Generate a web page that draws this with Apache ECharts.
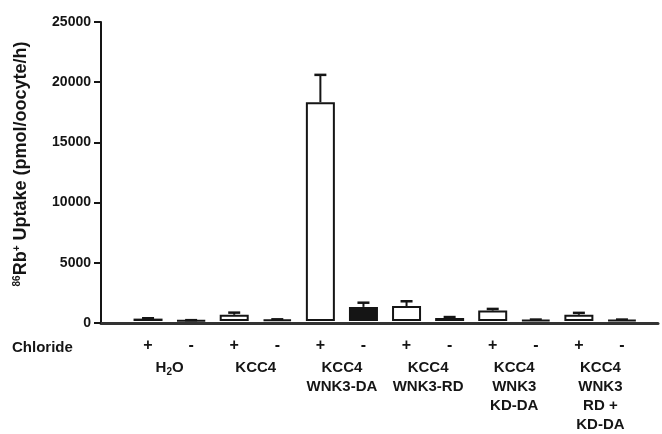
<!DOCTYPE html>
<html>
<head>
<meta charset="utf-8">
<script src="https://cdn.jsdelivr.net/npm/echarts@6/dist/echarts.min.js"></script>
<style>html,body{margin:0;padding:0;background:#fff;}#c{width:662px;height:434px;}</style>
</head>
<body>
<div id="c"></div>
<script>
// ---- data ----
const chloride = ['+', '-', '+', '-', '+', '-', '+', '-', '+', '-', '+', '-'];
const groupLabels = ['H{sub|2}O', 'KCC4', 'KCC4\nWNK3-DA', 'KCC4\nWNK3-RD', 'KCC4\nWNK3\nKD-DA', 'KCC4\nWNK3\nRD +\nKD-DA'];
const uptakeMean = [200, 60, 520, 120, 18300, 1180, 1250, 250, 870, 100, 520, 100];
const uptakeErr  = [30, 10, 180, 20, 2280, 350, 400, 80, 140, 20, 160, 20];
const yTicks = [0, 5000, 10000, 15000, 20000, 25000];

// ---- styling ----
const solidBarIndex = 5;
const ink = '#151515';
const font = 'Liberation Sans, Arial, sans-serif';

const chart = echarts.init(document.getElementById('c'), null, {renderer: 'canvas'});
const yMin = yTicks[0], yMax = yTicks[yTicks.length - 1], yStep = yTicks[1] - yTicks[0];

chart.setOption({
  animation: false,
  backgroundColor: '#fff',
  grid: [
    {left: 101, right: 4, top: 22, bottom: 111, containLabel: false},
    {left: 126.5, right: 18.5, top: 22, bottom: 111, containLabel: false}
  ],
  xAxis: [
    {gridIndex: 0, type: 'value', min: 0, max: 1, axisLine: {show: true, onZero: false, lineStyle: {color: '#333', width: 3}},
     axisTick: {show: false}, axisLabel: {show: false}, splitLine: {show: false}},
    {gridIndex: 1, type: 'category', data: chloride, boundaryGap: true,
     axisLine: {show: false}, axisTick: {show: false}, splitLine: {show: false},
     axisLabel: {interval: 0, margin: 17, color: ink, fontFamily: font, fontWeight: 'bold', fontSize: 16, lineHeight: 15}},
    {gridIndex: 1, type: 'category', data: groupLabels, boundaryGap: true, position: 'bottom',
     axisLine: {show: false}, axisTick: {show: false}, splitLine: {show: false},
     axisLabel: {interval: 0, margin: 37, color: ink, fontFamily: font, fontWeight: 'bold', fontSize: 15, lineHeight: 19,
       formatter: v => v,
       rich: {sub: {fontSize: 10, fontFamily: font, fontWeight: 'bold', color: ink, verticalAlign: 'bottom', lineHeight: 19, padding: [6, 0, 0, 0]}}}}
  ],
  yAxis: [
    {gridIndex: 0, type: 'value', min: yMin, max: yMax, interval: yStep,
     axisLine: {show: true, lineStyle: {color: ink, width: 2}},
     axisTick: {show: true, length: 7, lineStyle: {color: ink, width: 2}},
     axisLabel: {margin: 10, color: ink, fontFamily: font, fontWeight: 'bold', fontSize: 14, formatter: v => String(v)},
     splitLine: {show: false}},
    {gridIndex: 1, type: 'value', min: yMin, max: yMax, interval: yStep, show: false, splitLine: {show: false}}
  ],
  series: [
    {type: 'bar', xAxisIndex: 1, yAxisIndex: 1, data: uptakeMean, barWidth: 29,
     itemStyle: {color: p => p.dataIndex === solidBarIndex ? ink : '#fff', borderColor: ink, borderWidth: 2},
     z: 3},
    {type: 'custom', xAxisIndex: 1, yAxisIndex: 1, z: 4,
     data: uptakeMean.map((m, i) => [i, m, m + uptakeErr[i]]),
     renderItem: (params, api) => {
       const base = api.coord([api.value(0), api.value(1)]);
       const top = api.coord([api.value(0), api.value(2)]);
       const hw = 6;
       return {type: 'group', children: [
         {type: 'line', shape: {x1: base[0], y1: base[1], x2: top[0], y2: top[1]}, style: {stroke: ink, lineWidth: 2}},
         {type: 'line', shape: {x1: top[0] - hw, y1: top[1], x2: top[0] + hw, y2: top[1]}, style: {stroke: ink, lineWidth: 2.5}}
       ]};
     }}
  ],
  graphic: [
    {type: 'text', left: 12, top: 340, style: {text: 'Chloride', fill: ink, font: 'bold 15px ' + font}},
    {type: 'text', x: 21, y: 164, rotation: Math.PI / 2,
     style: {text: '{sup|86}Rb{sup|+} Uptake (pmol/oocyte/h)', fill: ink, font: 'bold 18px ' + font,
       align: 'center', verticalAlign: 'middle',
       rich: {sup: {fontSize: 10, fontWeight: 'bold', fontFamily: font, fill: ink, verticalAlign: 'top', padding: [0, 0, 6, 0]}}}}
  ]
});
</script>
</body>
</html>
